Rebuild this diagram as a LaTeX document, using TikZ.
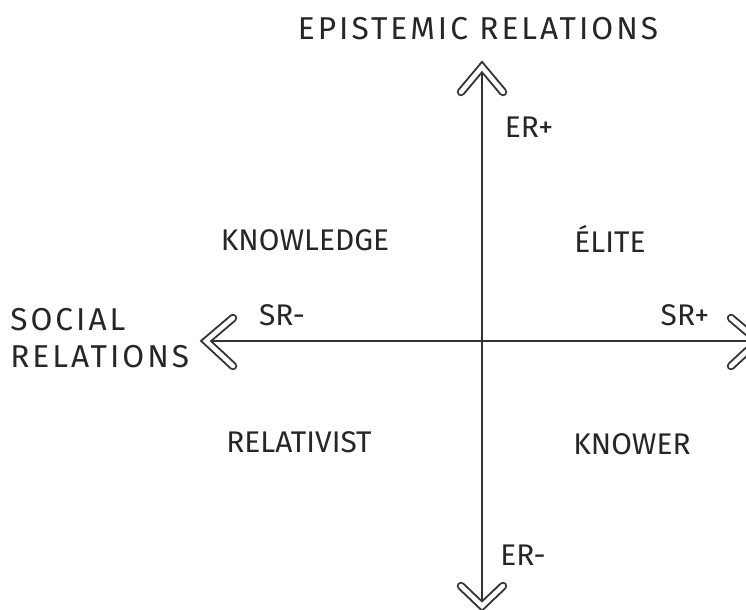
\documentclass[tikz,border=0pt]{standalone}
\usepackage{fontspec}
\setmainfont{Fira Sans}
\usetikzlibrary{calc}
\tikzset{
  axis/.style={draw=black!80, line width=1.1pt},
  chevron/.style={draw=black!80, double=white, double distance=2.6pt, line width=1.1pt, line cap=round, line join=miter},
  lbl/.style={text=black!85, inner sep=0pt, font=\fontsize{17}{20}\selectfont},
  wide/.style={font=\fontsize{18}{20}\selectfont\addfontfeatures{LetterSpace=9.5}}
}
\begin{document}
\begin{tikzpicture}[x=0.02cm,y=-0.02cm]
     \clip (0,0) rectangle (746,609);
     \coordinate (o) at (482,341);
     \coordinate (top) at (482,67);
     \coordinate (bot) at (482,606);
     \coordinate (lft) at (206,341);
     \coordinate (rgt) at (758,341);
     \draw[axis] (bot) -- (top);
     \draw[axis] (lft) -- (rgt);
     % arrow heads
     \draw[chevron] ($(top)+(-21,25)$) -- (top) -- ($(top)+(21,25)$);
     \draw[chevron] ($(bot)+(-21,-20)$) -- (bot) -- ($(bot)+(21,-20)$);
     \draw[chevron] ($(lft)+(27,-23)$) -- (lft) -- ($(lft)+(27,25)$);
     \draw[chevron] ($(rgt)+(-27,-23)$) -- (rgt) -- ($(rgt)+(-27,25)$);
     % labels
     \node[lbl,wide] (er) at (478,29) {EPISTEMIC RELATIONS};
     \node[lbl] (erp) at (529,127) {ER+};
     \node[lbl] (erm) at (523,555) {ER-};
     \node[lbl] (srm) at (282,315) {SR-};
     \node[lbl] (srp) at (685,315) {SR+};
     \node[lbl,wide,anchor=west] (soc) at (10,320) {SOCIAL};
     \node[lbl,wide,anchor=west] (rel) at (10,357) {RELATIONS};
     \node[lbl] (kn) at (305,240) {KNOWLEDGE};
     \node[lbl] (el) at (610,239) {ÉLITE};
     \node[lbl] (rv) at (299,442) {RELATIVIST};
     \node[lbl] (kw) at (632,444) {KNOWER};
\end{tikzpicture}
\end{document}
